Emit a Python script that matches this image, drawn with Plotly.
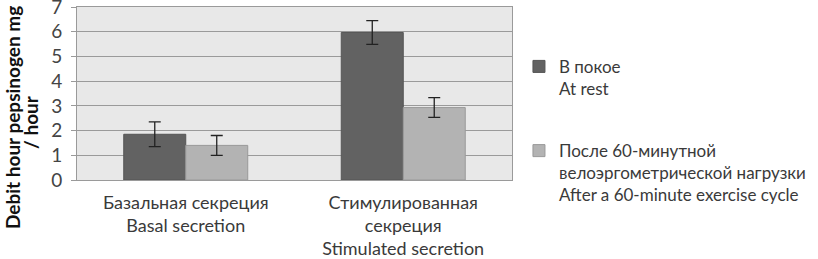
import plotly.graph_objects as go

categories = ["Базальная секреция<br>Basal secretion",
              "Стимулированная<br>секреция<br>Stimulated secretion"]
rest_values = [1.85, 5.97]
rest_errors = [0.5, 0.48]
after_values = [1.4, 2.93]
after_errors = [0.4, 0.4]
series_names = ["В покое<br>At rest",
                "После 60-минутной<br>велоэргометрической нагрузки<br>After a 60-minute exercise cycle"]
y_ticks = [0, 1, 2, 3, 4, 5, 6, 7]
y_title_lines = ["Debit hour pepsinogen mg", "/ hour"]

FONT = "Lato, Open Sans, sans-serif"
TXT = "#3a3a3a"

fig = go.Figure()
fig.add_trace(go.Bar(
    x=categories, y=rest_values, name=series_names[0],
    marker=dict(color="#626262", line=dict(color="#555555", width=1)),
    error_y=dict(type="data", array=rest_errors, color="#222222", thickness=1.3, width=6),
    legendgroup="a",
))
fig.add_trace(go.Bar(
    x=categories, y=after_values, name=series_names[1],
    marker=dict(color="#b3b3b3", line=dict(color="#999999", width=1)),
    error_y=dict(type="data", array=after_errors, color="#222222", thickness=1.3, width=6),
    legendgroup="b",
))

fig.update_layout(
    width=818, height=259,
    margin=dict(l=77, r=306, t=7, b=79, autoexpand=False),
    paper_bgcolor="white",
    plot_bgcolor="#e8e8e8",
    barmode="group",
    bargap=0.43,
    bargroupgap=0,
    font=dict(family=FONT, size=18, color=TXT),
    showlegend=True,
    legend=dict(
        x=1.016, y=0.758, xanchor="left", yanchor="top",
        font=dict(family=FONT, size=17, color=TXT),
        valign="top",
        traceorder="grouped",
        tracegroupgap=37,
        itemwidth=30,
        bgcolor="rgba(0,0,0,0)",
    ),
    xaxis=dict(
        automargin=False,
        showline=True, linecolor="#9a9a9a", linewidth=1, mirror=True,
        ticks="", tickfont=dict(family=FONT, size=18, color=TXT),
        ticklabelstandoff=6,
        showgrid=False,
    ),
    yaxis=dict(
        automargin=False,
        range=[0, 7], tickvals=y_ticks,
        showline=True, linecolor="#9a9a9a", linewidth=1, mirror=True,
        ticks="outside", ticklen=5, tickcolor="#9a9a9a",
        gridcolor="#9a9a9a", gridwidth=1,
        zeroline=False,
        ticklabeloverflow="allow",
        ticklabelstandoff=5,
        tickfont=dict(family=FONT, size=19, color="#444444"),
    ),
)

for i, (line, xc) in enumerate(zip(y_title_lines, [12, 30])):
    fig.add_annotation(
        text="<b>%s</b>" % line, textangle=-90,
        xref="paper", yref="paper",
        x=(xc - 77) / 435, y=(180 - (118 if i == 0 else 122)) / 173,
        xanchor="center", yanchor="middle", showarrow=False,
        font=dict(family=FONT, size=19, color="#111111"),
    )

fig.write_html(
    "out.html",
    config={"displayModeBar": False},
    post_script="document.body.style.margin='0';document.body.style.overflow='hidden';",
)
